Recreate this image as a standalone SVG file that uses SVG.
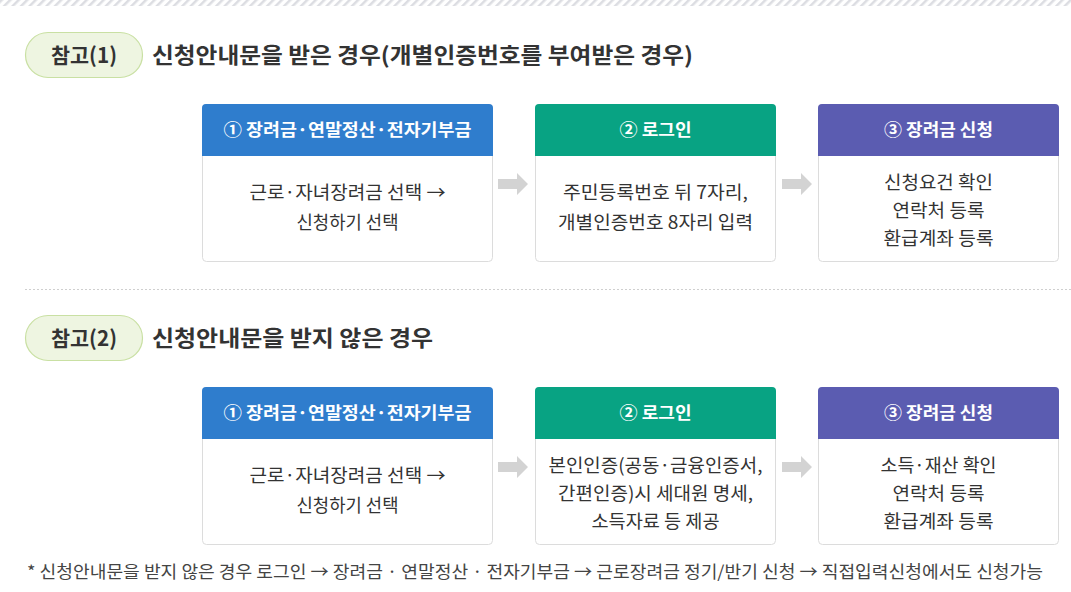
<svg xmlns="http://www.w3.org/2000/svg" width="1071" height="592" viewBox="0 0 1071 592">
<defs>
<pattern id="hatch" width="6" height="6" patternUnits="userSpaceOnUse" patternTransform="rotate(45)">
<rect width="6" height="6" fill="#ffffff"/>
<rect width="2.5" height="6" fill="#dcdde2"/>
</pattern>
</defs>
<style>
text{font-family:"Noto Sans CJK KR","Noto Sans",sans-serif;}
.badge{fill:#eef5e1;stroke:#c9e0a3;stroke-width:1.2;}
.btxt{font-size:21px;font-weight:700;fill:#333;text-anchor:middle;}
.title{font-size:22px;font-weight:700;fill:#333;}
.card{fill:#fff;stroke:#dcdcdc;stroke-width:1;}
.htxt{font-size:17px;font-weight:700;fill:#fff;text-anchor:middle;}
.body{font-size:18.5px;fill:#333;text-anchor:middle;}
.arrow{fill:#d3d3d3;}
.note{font-size:17px;fill:#444;}
</style>
<rect x="0" y="0" width="1071" height="6" fill="url(#hatch)"/>
<line x1="25" y1="289.5" x2="1071" y2="289.5" stroke="#cfcfcf" stroke-width="1" stroke-dasharray="2,2"/>

<g id="badge1"><rect class="badge" x="25.5" y="32.5" width="117" height="45" rx="22.5"/><text class="btxt" x="84" y="63" textLength="66" lengthAdjust="spacingAndGlyphs">참고(1)</text></g>
<g id="title1"><text class="title" x="152" y="63" textLength="541" lengthAdjust="spacingAndGlyphs">신청안내문을 받은 경우(개별인증번호를 부여받은 경우)</text></g>

<g id="s1-step1"><rect class="card" x="202.5" y="104.5" width="290" height="157" rx="4"/><path d="M202,108 a4,4 0 0 1 4,-4 h283 a4,4 0 0 1 4,4 v48 h-291 z" fill="#2f7dcd"/><text class="htxt" x="347.5" y="136" textLength="248" lengthAdjust="spacingAndGlyphs">① 장려금·연말정산·전자기부금</text><text class="body" x="347.5" y="199" textLength="196" lengthAdjust="spacingAndGlyphs">근로·자녀장려금 선택 →</text><text class="body" x="347.5" y="229" textLength="102" lengthAdjust="spacingAndGlyphs">신청하기 선택</text></g>
<g id="s1-step2"><rect class="card" x="535.5" y="104.5" width="240" height="157" rx="4"/><path d="M535,108 a4,4 0 0 1 4,-4 h233 a4,4 0 0 1 4,4 v48 h-241 z" fill="#08a383"/><text class="htxt" x="655.5" y="136" textLength="72" lengthAdjust="spacingAndGlyphs">② 로그인</text><text class="body" x="655.5" y="199" textLength="185" lengthAdjust="spacingAndGlyphs">주민등록번호 뒤 7자리,</text><text class="body" x="655.5" y="229" textLength="195" lengthAdjust="spacingAndGlyphs">개별인증번호 8자리 입력</text></g>
<g id="s1-step3"><rect class="card" x="818.5" y="104.5" width="240" height="157" rx="4"/><path d="M818,108 a4,4 0 0 1 4,-4 h233 a4,4 0 0 1 4,4 v48 h-241 z" fill="#5b5cb1"/><text class="htxt" x="938.5" y="136" textLength="109" lengthAdjust="spacingAndGlyphs">③ 장려금 신청</text><text class="body" x="938.5" y="189" textLength="109" lengthAdjust="spacingAndGlyphs">신청요건 확인</text><text class="body" x="938.5" y="217" textLength="92" lengthAdjust="spacingAndGlyphs">연락처 등록</text><text class="body" x="938.5" y="245" textLength="110" lengthAdjust="spacingAndGlyphs">환급계좌 등록</text></g>

<g id="badge2"><rect class="badge" x="25.5" y="315.5" width="117" height="45" rx="22.5"/><text class="btxt" x="84" y="346" textLength="66" lengthAdjust="spacingAndGlyphs">참고(2)</text></g>
<g id="title2"><text class="title" x="152" y="346" textLength="281" lengthAdjust="spacingAndGlyphs">신청안내문을 받지 않은 경우</text></g>

<g id="s2-step1"><rect class="card" x="202.5" y="387.5" width="290" height="157" rx="4"/><path d="M202,391 a4,4 0 0 1 4,-4 h283 a4,4 0 0 1 4,4 v48 h-291 z" fill="#2f7dcd"/><text class="htxt" x="347.5" y="419" textLength="248" lengthAdjust="spacingAndGlyphs">① 장려금·연말정산·전자기부금</text><text class="body" x="347.5" y="482" textLength="196" lengthAdjust="spacingAndGlyphs">근로·자녀장려금 선택 →</text><text class="body" x="347.5" y="512" textLength="102" lengthAdjust="spacingAndGlyphs">신청하기 선택</text></g>
<g id="s2-step2"><rect class="card" x="535.5" y="387.5" width="240" height="157" rx="4"/><path d="M535,391 a4,4 0 0 1 4,-4 h233 a4,4 0 0 1 4,4 v48 h-241 z" fill="#08a383"/><text class="htxt" x="655.5" y="419" textLength="72" lengthAdjust="spacingAndGlyphs">② 로그인</text><text class="body" x="655.5" y="472" textLength="214" lengthAdjust="spacingAndGlyphs">본인인증(공동·금융인증서,</text><text class="body" x="655.5" y="500" textLength="195" lengthAdjust="spacingAndGlyphs">간편인증)시 세대원 명세,</text><text class="body" x="655.5" y="528" textLength="128" lengthAdjust="spacingAndGlyphs">소득자료 등 제공</text></g>
<g id="s2-step3"><rect class="card" x="818.5" y="387.5" width="240" height="157" rx="4"/><path d="M818,391 a4,4 0 0 1 4,-4 h233 a4,4 0 0 1 4,4 v48 h-241 z" fill="#5b5cb1"/><text class="htxt" x="938.5" y="419" textLength="109" lengthAdjust="spacingAndGlyphs">③ 장려금 신청</text><text class="body" x="938.5" y="472" textLength="116" lengthAdjust="spacingAndGlyphs">소득·재산 확인</text><text class="body" x="938.5" y="500" textLength="92" lengthAdjust="spacingAndGlyphs">연락처 등록</text><text class="body" x="938.5" y="528" textLength="110" lengthAdjust="spacingAndGlyphs">환급계좌 등록</text></g>

<g id="connectors">
<path class="arrow" d="M498,179 h19 v-6 l11,11 l-11,11 v-6 h-19 z"/>
<path class="arrow" d="M782,179 h19 v-6 l11,11 l-11,11 v-6 h-19 z"/>
<path class="arrow" d="M498,462 h19 v-6 l11,11 l-11,11 v-6 h-19 z"/>
<path class="arrow" d="M782,462 h19 v-6 l11,11 l-11,11 v-6 h-19 z"/>
</g>

<text class="note" x="27" y="578" textLength="1016" lengthAdjust="spacingAndGlyphs">* 신청안내문을 받지 않은 경우 로그인 → 장려금 · 연말정산 · 전자기부금 → 근로장려금 정기/반기 신청 → 직접입력신청에서도 신청가능</text>
</svg>
